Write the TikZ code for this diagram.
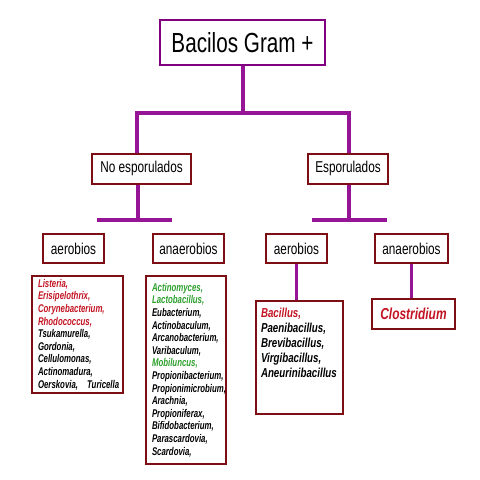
\documentclass[tikz,border=0pt]{standalone}
\usepackage{fontspec}
\setmainfont{Liberation Sans}[FakeStretch=0.75]
\newfontfamily\narrowfont{Liberation Sans}[FakeStretch=0.70]
\definecolor{conncol}{RGB}{150,20,150}
\definecolor{titlecol}{RGB}{128,0,128}
\definecolor{boxcol}{RGB}{125,15,20}
\definecolor{redtxt}{RGB}{195,20,35}
\definecolor{greentxt}{RGB}{45,160,45}
\tikzset{
  conn/.style={draw=conncol, line width=4pt},
  thinconn/.style={draw=conncol, line width=3.3pt},
  titlebox/.style={draw=titlecol, line width=2.5pt, fill=white, inner sep=0pt,
    minimum width=165pt, minimum height=45pt, font=\fontsize{27.6}{31}\selectfont},
  midbox/.style={draw=boxcol, line width=2pt, fill=white, inner sep=0pt,
    minimum height=30pt, font=\fontsize{15.7}{18}\selectfont},
  listbox/.style={draw=boxcol, line width=2pt, fill=white, inner ysep=0pt,
    anchor=north west, align=left, font=\narrowfont\bfseries\itshape\fontsize{11.2}{12.6}\selectfont},
}
\newcommand{\rd}[1]{\textcolor{redtxt}{#1}}
\newcommand{\gr}[1]{\textcolor{greentxt}{#1}}
\begin{document}
\begin{tikzpicture}[x=1pt,y=-1pt]
\useasboundingbox (0,0) rectangle (480,480);
% nodes
\node[titlebox] (title) at (242.5,42.5) {Bacilos Gram +};
\node[midbox, minimum width=99pt] (noesp) at (141.5,168.5) {No esporulados};
\node[midbox, minimum width=80pt] (esp) at (348,168.5) {Esporulados};
\node[midbox, minimum width=61pt, minimum height=29pt] (aerL) at (73.5,248.5) {aerobios};
\node[midbox, minimum width=71pt, minimum height=29pt] (anaL) at (188.5,248.5) {anaerobios};
\node[midbox, minimum width=61pt, minimum height=29pt] (aerR) at (296.5,248.5) {aerobios};
\node[midbox, minimum width=73pt, minimum height=29pt] (anaR) at (411.5,248.5) {anaerobios};
\node[listbox, inner xsep=6pt, text width=79pt, minimum height=117pt] (listA) at (31,275) {%
\rd{Listeria,}\\ \rd{Erisipelothrix,}\\ \rd{Corynebacterium,}\\ \rd{Rhodococcus,}\\
Tsukamurella,\\ Gordonia,\\ Cellulomonas,\\ Actinomadura,\\ \mbox{Oerskovia,\hspace{9pt}Turicella}};
\node[listbox, inner xsep=6pt, text width=68pt, minimum height=188pt] (listB) at (145,275) {%
\gr{Actinomyces,}\\ \gr{Lactobacillus,}\\ Eubacterium,\\ Actinobaculum,\\ Arcanobacterium,\\
Varibaculum,\\ \gr{Mobiluncus,}\\ Propionibacterium,\\ Propionimicrobium,\\ Arachnia,\\
Propioniferax,\\ Bifidobacterium,\\ Parascardovia,\\ Scardovia,};
\node[listbox, inner xsep=5pt, text width=77pt, minimum height=113pt, text depth=90pt,
  font=\bfseries\itshape\fontsize{13}{15}\selectfont] (listC) at (255,300) {%
\rd{Bacillus,}\\ Paenibacillus,\\ Brevibacillus,\\ Virgibacillus,\\ Aneurinibacillus};
\node[midbox, minimum width=83pt, font=\bfseries\itshape\fontsize{15.9}{18}\selectfont,
  text=redtxt] (clos) at (413.5,314) {Clostridium};
% junction coordinates
\coordinate (hub) at (242.5,113);
\coordinate (hl) at (137,113);
\coordinate (hr) at (349,113);
\coordinate (sl) at (138,220);
\coordinate (sr) at (349,220);
\coordinate (blA) at (97,220);
\coordinate (blB) at (172,220);
\coordinate (brA) at (312,220);
\coordinate (brB) at (387,220);
% connectors
\draw[conn] (title.south) -- (hub);
\draw[conn] (hl |- noesp.north) -- (hl) -- (hr) -- (hr |- esp.north);
\draw[conn] (sl |- noesp.south) -- (sl);
\draw[conn] (blA) -- (blB);
\draw[conn] (sr |- esp.south) -- (sr);
\draw[conn] (brA) -- (brB);
\draw[thinconn] (aerR.south) -- (aerR.south |- listC.north);
\draw[thinconn] (anaR.south) -- (anaR.south |- clos.north);
\end{tikzpicture}
\end{document}
